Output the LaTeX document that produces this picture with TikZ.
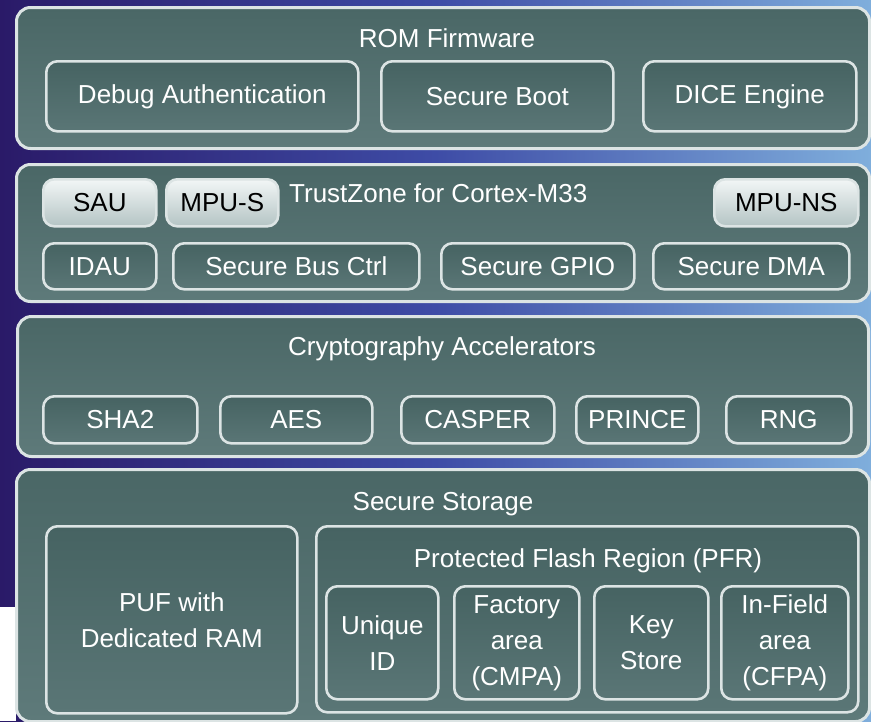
\documentclass[tikz,border=0pt]{standalone}
\usepackage{fontspec}
\setmainfont{Liberation Sans}
\definecolor{bord}{HTML}{DCE4E4}
\definecolor{tealA}{HTML}{4A6766}
\definecolor{tealB}{HTML}{5E7A7A}
\definecolor{tealC}{HTML}{466362}
\definecolor{tealD}{HTML}{5A7676}
\definecolor{liteA}{HTML}{F2F6F6}
\definecolor{liteB}{HTML}{B4C4C4}
\definecolor{bgL}{HTML}{2A1A68}
\definecolor{bgM}{HTML}{3E4CA6}
\definecolor{bgR}{HTML}{7FAEDC}
\newcommand\fsz{\fontsize{26}{36}\selectfont}
\begin{document}
\begin{tikzpicture}[x=1pt,y=-1pt,
  layer/.style={rounded corners=14pt, draw=bord, line width=3pt, top color=tealA, bottom color=tealB, anchor=north west, inner sep=0pt},
  blk/.style={rounded corners=11pt, draw=bord, line width=2.6pt, top color=tealC, bottom color=tealD, text=white, font=\fsz, align=center, inner sep=0pt, anchor=north west},
  lite/.style={blk, top color=liteA, bottom color=liteB, text=black},
  ttl/.style={text=white, font=\fsz, inner sep=0pt}]
\useasboundingbox (0,0) rectangle (871,721);
\shade[left color=bgL, right color=bgR, middle color=bgM] (0,0) rectangle (871,721);
\fill[white] (0,607) rectangle (16,721);
% layer 1
\node[layer, minimum width=853pt, minimum height=141pt] (rom) at (15,6) {};
\node[ttl] (romt) at (447,38) {ROM Firmware};
\node[blk, minimum width=312pt, minimum height=70pt] (dbg) at (45,60) {Debug Authentication};
\node[blk, minimum width=232pt, minimum height=70pt] (sb) at (380,60) {Secure Boot};
\node[blk, minimum width=213pt, minimum height=70pt] (dice) at (642,60) {DICE Engine};
% layer 2
\node[layer, minimum width=853pt, minimum height=137pt] (tz) at (15,163) {};
\node[ttl, anchor=west] (tzt) at (289,193) {TrustZone for Cortex-M33};
\node[lite, minimum width=113pt, minimum height=47pt] (sau) at (42,178) {SAU};
\node[lite, minimum width=112pt, minimum height=47pt] (mpus) at (165,178) {MPU-S};
\node[lite, minimum width=144pt, minimum height=47pt] (mpuns) at (713,178) {MPU-NS};
\node[blk, minimum width=113pt, minimum height=46pt] (idau) at (42,242) {IDAU};
\node[blk, minimum width=246pt, minimum height=46pt] (sbc) at (172,242) {Secure Bus Ctrl};
\node[blk, minimum width=193pt, minimum height=46pt] (gpio) at (440,242) {Secure GPIO};
\node[blk, minimum width=196pt, minimum height=46pt] (dma) at (652,242) {Secure DMA};
% layer 3
\node[layer, minimum width=851pt, minimum height=140pt] (cr) at (16,315) {};
\node[ttl] (crt) at (442,349) {Cryptography Accelerators};
\node[blk, minimum width=154pt, minimum height=47pt] (sha) at (42,395) {SHA2};
\node[blk, minimum width=152pt, minimum height=47pt] (aes) at (219,395) {AES};
\node[blk, minimum width=153pt, minimum height=47pt] (casp) at (400,395) {CASPER};
\node[blk, minimum width=122pt, minimum height=47pt] (prin) at (575,395) {PRINCE};
\node[blk, minimum width=125pt, minimum height=47pt] (rng) at (725,395) {RNG};
% layer 4
\node[layer, minimum width=853pt, minimum height=252pt] (ss) at (15,468) {};
\node[ttl] (sst) at (443,504) {Secure Storage};
\node[blk, minimum width=251pt, minimum height=187pt] (puf) at (45,525) {PUF with\\Dedicated RAM};
\node[blk, minimum width=542pt, minimum height=186pt] (pfr) at (315,525) {};
\node[ttl] (pfrt) at (588,561) {Protected Flash Region (PFR)};
\node[blk, minimum width=112pt, minimum height=113pt] (uid) at (325,585) {Unique\\ID};
\node[blk, minimum width=125pt, minimum height=113pt] (fac) at (453,585) {Factory\\area\\(CMPA)};
\node[blk, minimum width=114pt, minimum height=113pt] (key) at (593,585) {Key\\Store};
\node[blk, minimum width=127pt, minimum height=113pt] (inf) at (720,585) {In-Field\\area\\(CFPA)};
\end{tikzpicture}
\end{document}
